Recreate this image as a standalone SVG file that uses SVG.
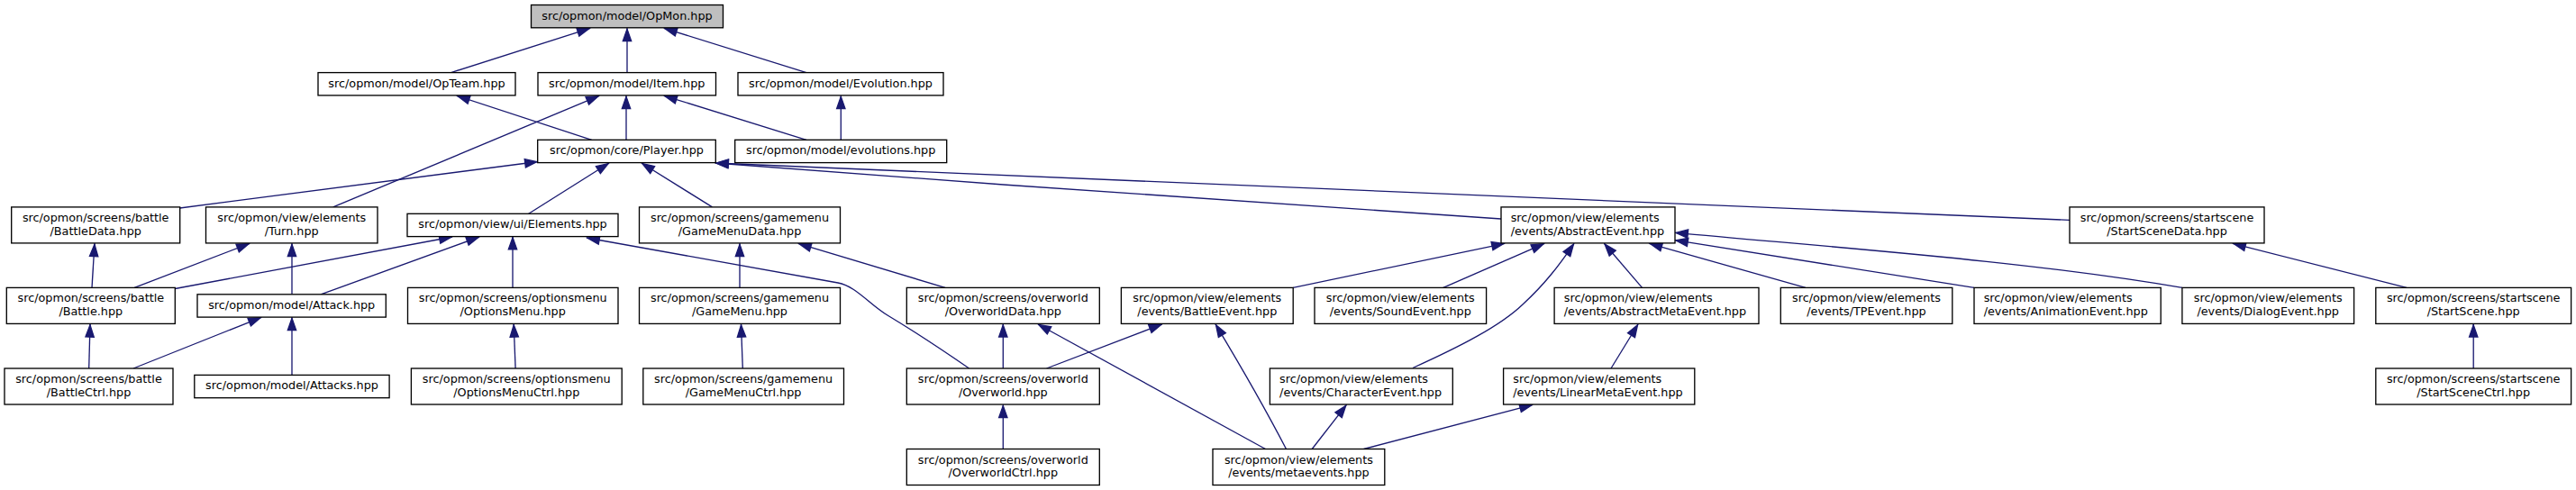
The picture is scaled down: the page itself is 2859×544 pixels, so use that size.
<svg xmlns="http://www.w3.org/2000/svg" width="2859" height="544" viewBox="0 0 2859 544">
<defs>
<style>
.node rect{fill:#ffffff;stroke:#000000;stroke-width:1.33}
#n_opmon rect{fill:#bfbfbf}
.node text{font-family:"DejaVu Sans","Liberation Sans",sans-serif;font-size:12.8px;fill:#000000;text-anchor:middle}
.node text.l{text-anchor:start}
.edges path{fill:none;stroke:#191970;stroke-width:1.33;marker-end:url(#ah)}
</style>
<marker id="ah" markerUnits="userSpaceOnUse" viewBox="-16 -7 18 14" refX="1" refY="0" markerWidth="18" markerHeight="14" orient="auto" overflow="visible">
<path d="M0,0 L-13.3,-4.67 L-13.3,4.67 Z" fill="#191970" stroke="#191970" stroke-width="1.33"/>
</marker>
</defs>
<rect x="0" y="0" width="2859" height="544" fill="#ffffff"/>
<g class="edges" id="edges">
<path d="M500.5,80.6 L655,31.3"/>
<path d="M696,80.6 L696,31.3"/>
<path d="M895,80.6 L737,31.3"/>
<path d="M656.7,155.3 L507,106.3"/>
<path d="M695,155.3 L695,106.3"/>
<path d="M369.7,229.9 L665,106.3"/>
<path d="M895,155.3 L737,106.3"/>
<path d="M933.3,155.3 L933.3,106.3"/>
<path d="M199.5,231 L597,179.5"/>
<path d="M586.7,237.3 L676,181"/>
<path d="M790.5,229.9 L712,181"/>
<path d="M1666,243 C1450,228 1080,204 794,181"/>
<path d="M2297,244.4 C1900,228 1200,198 794,181"/>
<path d="M149.2,319.4 L277,270.3"/>
<path d="M102,319.4 L105,270.3"/>
<path d="M194.3,320.5 L502,263"/>
<path d="M324,326.8 L324,270.3"/>
<path d="M356,326.8 L532,263"/>
<path d="M569,319.4 L569,262.6"/>
<path d="M1075.6,409 C1035,381 1005,362 985,350 C965,338 949.7,317.5 930,314 L651,264"/>
<path d="M821,319.4 L821,270.3"/>
<path d="M1049,319.4 L886,270.3"/>
<path d="M98.7,409 L100,359.8"/>
<path d="M148,409 L290,352.3"/>
<path d="M324,416.4 L324,352.3"/>
<path d="M572.1,409 L570.2,359.8"/>
<path d="M824.3,409 L822.5,359.8"/>
<path d="M1113.3,409 L1113.3,359.8"/>
<path d="M1161.5,409 L1289.7,360"/>
<path d="M1113.3,498.5 L1113.3,449.4"/>
<path d="M1404.5,498.5 L1152,360"/>
<path d="M1427.5,498.5 C1405,455 1372,398 1349,359.8"/>
<path d="M1456.2,498.5 L1494.4,449.4"/>
<path d="M1513.6,498.5 L1701,449.4"/>
<path d="M1435.2,319.4 L1670,270.3"/>
<path d="M1601.8,319.4 L1714,270.3"/>
<path d="M1568,408.5 C1620,385 1665,362 1690,338 C1715,315 1730,295 1747,270.3"/>
<path d="M1822.5,319.4 L1780.4,270.3"/>
<path d="M2003.9,319.4 L1830.4,270.3"/>
<path d="M2191,319.4 L1859,266.7"/>
<path d="M2421.9,319.4 C2250,290 2050,276 1859,258.3"/>
<path d="M1788,409 L1818,360"/>
<path d="M2671,319.4 L2478,270.3"/>
<path d="M2745.2,409 L2745.2,359.8"/>
</g>
<g class="node" id="n_opmon"><rect x="589.5" y="5.5" width="213" height="25.3"/><text x="696" y="21.5">src/opmon/model/OpMon.hpp</text></g>
<g class="node" id="n_opteam"><rect x="353" y="80.6" width="219" height="25.3"/><text x="462.5" y="96.6">src/opmon/model/OpTeam.hpp</text></g>
<g class="node" id="n_item"><rect x="597" y="80.6" width="197.5" height="25.3"/><text x="695.75" y="96.6">src/opmon/model/Item.hpp</text></g>
<g class="node" id="n_evolution"><rect x="819" y="80.6" width="228" height="25.3"/><text x="933" y="96.6">src/opmon/model/Evolution.hpp</text></g>
<g class="node" id="n_player"><rect x="596.7" y="155.3" width="197.6" height="25.3"/><text x="695.5" y="171.3">src/opmon/core/Player.hpp</text></g>
<g class="node" id="n_evolutions"><rect x="815.7" y="155.3" width="235" height="25.3"/><text x="933.2" y="171.3">src/opmon/model/evolutions.hpp</text></g>
<g class="node" id="n_battledata"><rect x="12.7" y="229.9" width="187" height="40"/><text x="106.2" y="245.9">src/opmon/screens/battle</text><text x="106.2" y="260.6">/BattleData.hpp</text></g>
<g class="node" id="n_turn"><rect x="228.5" y="229.9" width="190.5" height="40"/><text x="323.75" y="245.9">src/opmon/view/elements</text><text x="323.75" y="260.6">/Turn.hpp</text></g>
<g class="node" id="n_elements"><rect x="452" y="237.3" width="234" height="25.3"/><text x="569" y="253.3">src/opmon/view/ui/Elements.hpp</text></g>
<g class="node" id="n_gamemenudata"><rect x="709.5" y="229.9" width="223" height="40"/><text x="821" y="245.9">src/opmon/screens/gamemenu</text><text x="821" y="260.6">/GameMenuData.hpp</text></g>
<g class="node" id="n_abstractevent"><rect x="1666" y="229.9" width="193" height="40"/><text class="l" x="1676.7" y="245.9">src/opmon/view/elements</text><text class="l" x="1676.7" y="260.6">/events/AbstractEvent.hpp</text></g>
<g class="node" id="n_startscenedata"><rect x="2297" y="229.9" width="216" height="40"/><text x="2405" y="245.9">src/opmon/screens/startscene</text><text x="2405" y="260.6">/StartSceneData.hpp</text></g>
<g class="node" id="n_battle"><rect x="7.3" y="319.4" width="187" height="40"/><text x="100.8" y="335.4">src/opmon/screens/battle</text><text x="100.8" y="350.1">/Battle.hpp</text></g>
<g class="node" id="n_attack"><rect x="219" y="326.8" width="209.3" height="25.3"/><text x="323.7" y="342.8">src/opmon/model/Attack.hpp</text></g>
<g class="node" id="n_optionsmenu"><rect x="452.5" y="319.4" width="233.5" height="40"/><text x="569.2" y="335.4">src/opmon/screens/optionsmenu</text><text x="569.2" y="350.1">/OptionsMenu.hpp</text></g>
<g class="node" id="n_gamemenu"><rect x="709.5" y="319.4" width="223" height="40"/><text x="821" y="335.4">src/opmon/screens/gamemenu</text><text x="821" y="350.1">/GameMenu.hpp</text></g>
<g class="node" id="n_overworlddata"><rect x="1006.3" y="319.4" width="214" height="40"/><text x="1113.3" y="335.4">src/opmon/screens/overworld</text><text x="1113.3" y="350.1">/OverworldData.hpp</text></g>
<g class="node" id="n_battleevent"><rect x="1244.4" y="319.4" width="190.8" height="40"/><text x="1339.8" y="335.4">src/opmon/view/elements</text><text x="1339.8" y="350.1">/events/BattleEvent.hpp</text></g>
<g class="node" id="n_soundevent"><rect x="1459" y="319.4" width="190.6" height="40"/><text x="1554.3" y="335.4">src/opmon/view/elements</text><text x="1554.3" y="350.1">/events/SoundEvent.hpp</text></g>
<g class="node" id="n_abstractmetaevent"><rect x="1725.1" y="319.4" width="226.9" height="40"/><text class="l" x="1735.8" y="335.4">src/opmon/view/elements</text><text class="l" x="1735.8" y="350.1">/events/AbstractMetaEvent.hpp</text></g>
<g class="node" id="n_tpevent"><rect x="1976.3" y="319.4" width="190.5" height="40"/><text x="2071.5" y="335.4">src/opmon/view/elements</text><text x="2071.5" y="350.1">/events/TPEvent.hpp</text></g>
<g class="node" id="n_animationevent"><rect x="2191" y="319.4" width="207.2" height="40"/><text class="l" x="2201.7" y="335.4">src/opmon/view/elements</text><text class="l" x="2201.7" y="350.1">/events/AnimationEvent.hpp</text></g>
<g class="node" id="n_dialogevent"><rect x="2421.9" y="319.4" width="190.7" height="40"/><text x="2517.2" y="335.4">src/opmon/view/elements</text><text x="2517.2" y="350.1">/events/DialogEvent.hpp</text></g>
<g class="node" id="n_startscene"><rect x="2636.8" y="319.4" width="216.8" height="40"/><text x="2745.2" y="335.4">src/opmon/screens/startscene</text><text x="2745.2" y="350.1">/StartScene.hpp</text></g>
<g class="node" id="n_battlectrl"><rect x="5" y="409" width="187" height="40"/><text x="98.5" y="425">src/opmon/screens/battle</text><text x="98.5" y="439.7">/BattleCtrl.hpp</text></g>
<g class="node" id="n_attacks"><rect x="215.8" y="416.4" width="216.3" height="25.3"/><text x="324" y="432.4">src/opmon/model/Attacks.hpp</text></g>
<g class="node" id="n_optionsmenuctrl"><rect x="456.4" y="409" width="233.8" height="40"/><text x="573.3" y="425">src/opmon/screens/optionsmenu</text><text x="573.3" y="439.7">/OptionsMenuCtrl.hpp</text></g>
<g class="node" id="n_gamemenuctrl"><rect x="713.8" y="409" width="222.7" height="40"/><text x="825.1" y="425">src/opmon/screens/gamemenu</text><text x="825.1" y="439.7">/GameMenuCtrl.hpp</text></g>
<g class="node" id="n_overworld"><rect x="1006.3" y="409" width="214" height="40"/><text x="1113.3" y="425">src/opmon/screens/overworld</text><text x="1113.3" y="439.7">/Overworld.hpp</text></g>
<g class="node" id="n_characterevent"><rect x="1409.4" y="409" width="202.9" height="40"/><text class="l" x="1420.1" y="425">src/opmon/view/elements</text><text class="l" x="1420.1" y="439.7">/events/CharacterEvent.hpp</text></g>
<g class="node" id="n_linearmetaevent"><rect x="1668.6" y="409" width="212.2" height="40"/><text class="l" x="1679.3" y="425">src/opmon/view/elements</text><text class="l" x="1679.3" y="439.7">/events/LinearMetaEvent.hpp</text></g>
<g class="node" id="n_startscenectrl"><rect x="2636.8" y="409" width="216.8" height="40"/><text x="2745.2" y="425">src/opmon/screens/startscene</text><text x="2745.2" y="439.7">/StartSceneCtrl.hpp</text></g>
<g class="node" id="n_overworldctrl"><rect x="1006.3" y="498.5" width="214" height="40"/><text x="1113.3" y="514.5">src/opmon/screens/overworld</text><text x="1113.3" y="529.2">/OverworldCtrl.hpp</text></g>
<g class="node" id="n_metaevents"><rect x="1346" y="498.5" width="190.8" height="40"/><text x="1441.4" y="514.5">src/opmon/view/elements</text><text x="1441.4" y="529.2">/events/metaevents.hpp</text></g>
</svg>
